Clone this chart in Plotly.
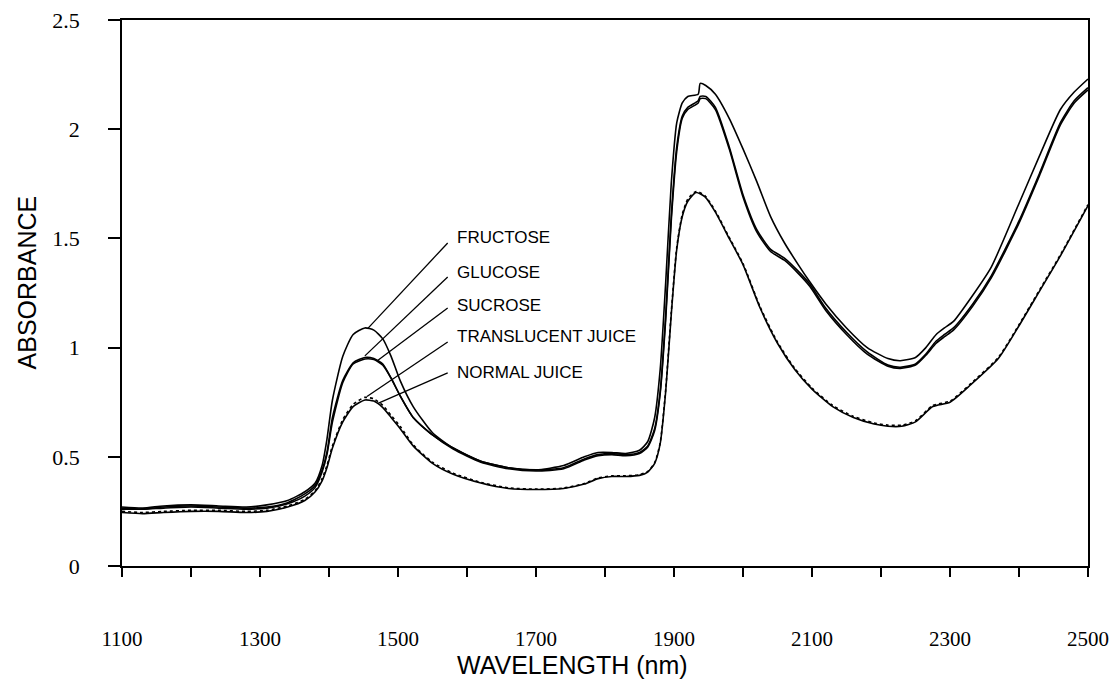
import plotly.graph_objects as go

# ---------------- data ----------------
wl_sugar = [1100, 1130, 1160, 1200, 1240, 1280, 1310, 1340, 1365, 1380, 1390, 1397, 1405, 1420,
            1435, 1452, 1465, 1478, 1490, 1503, 1522, 1550, 1580, 1620, 1660, 1700, 1740, 1770,
            1790, 1810, 1830, 1850, 1862, 1872, 1880, 1888, 1896, 1904, 1912, 1920, 1935, 1938,
            1946, 1960, 1980, 2000, 2020, 2040, 2060, 2080, 2097, 2120, 2150, 2180, 2210, 2228,
            2250, 2265, 2280, 2292, 2305, 2333, 2360, 2400, 2430, 2460, 2480, 2500]

fructose = [0.27, 0.265, 0.275, 0.28, 0.275, 0.27, 0.28, 0.30, 0.34, 0.38, 0.46, 0.58, 0.76, 0.96,
            1.06, 1.09, 1.08, 1.04, 0.96, 0.85, 0.73, 0.61, 0.54, 0.48, 0.45, 0.44, 0.46, 0.50,
            0.52, 0.52, 0.515, 0.53, 0.57, 0.68, 0.90, 1.30, 1.75, 2.03, 2.12, 2.15, 2.16, 2.21,
            2.20, 2.16, 2.05, 1.91, 1.76, 1.60, 1.48, 1.38, 1.30, 1.20, 1.09, 1.00, 0.95, 0.94,
            0.955, 1.00, 1.06, 1.09, 1.12, 1.24, 1.37, 1.66, 1.88, 2.09, 2.17, 2.23]

glucose = [0.265, 0.26, 0.27, 0.275, 0.27, 0.265, 0.27, 0.29, 0.33, 0.37, 0.44, 0.52, 0.68, 0.85,
           0.93, 0.955, 0.95, 0.925, 0.86, 0.78, 0.68, 0.60, 0.54, 0.48, 0.45, 0.44, 0.45, 0.49,
           0.51, 0.515, 0.51, 0.52, 0.55, 0.63, 0.80, 1.15, 1.60, 1.92, 2.06, 2.10, 2.13, 2.15,
           2.15, 2.10, 1.92, 1.70, 1.54, 1.45, 1.41, 1.35, 1.29, 1.18, 1.07, 0.98, 0.92, 0.91,
           0.925, 0.97, 1.03, 1.06, 1.09, 1.20, 1.33, 1.58, 1.80, 2.03, 2.13, 2.19]

sucrose = [0.26, 0.26, 0.265, 0.27, 0.265, 0.26, 0.265, 0.285, 0.32, 0.36, 0.43, 0.51, 0.66, 0.84,
           0.925, 0.948, 0.945, 0.92, 0.86, 0.78, 0.68, 0.60, 0.535, 0.475, 0.445, 0.435, 0.445, 0.485,
           0.505, 0.51, 0.505, 0.515, 0.545, 0.62, 0.79, 1.13, 1.58, 1.90, 2.05, 2.09, 2.12, 2.14,
           2.14, 2.09, 1.91, 1.69, 1.53, 1.44, 1.40, 1.34, 1.28, 1.17, 1.06, 0.97, 0.915, 0.905,
           0.92, 0.965, 1.02, 1.05, 1.08, 1.19, 1.32, 1.57, 1.79, 2.02, 2.12, 2.18]

wl_juice = [1100, 1130, 1160, 1200, 1240, 1280, 1310, 1340, 1365, 1380, 1390, 1397, 1405, 1420,
            1435, 1452, 1465, 1478, 1490, 1503, 1522, 1550, 1580, 1620, 1660, 1700, 1740, 1770,
            1790, 1810, 1830, 1850, 1862, 1872, 1880, 1888, 1896, 1904, 1912, 1920, 1932, 1945,
            1960, 1980, 2000, 2025, 2050, 2075, 2100, 2130, 2160, 2190, 2210, 2230, 2250, 2275,
            2300, 2330, 2370, 2400, 2430, 2460, 2500]

normal_juice = [0.245, 0.24, 0.245, 0.25, 0.25, 0.245, 0.25, 0.27, 0.30, 0.34, 0.39, 0.45, 0.54, 0.66,
                0.73, 0.76, 0.755, 0.725, 0.68, 0.63, 0.55, 0.47, 0.42, 0.38, 0.355, 0.35, 0.355, 0.375,
                0.40, 0.41, 0.41, 0.415, 0.43, 0.47, 0.56, 0.80, 1.15, 1.45, 1.60, 1.67, 1.71, 1.69,
                1.62, 1.50, 1.38, 1.18, 1.02, 0.90, 0.81, 0.73, 0.68, 0.65, 0.64, 0.64, 0.66, 0.73,
                0.75, 0.83, 0.95, 1.10, 1.26, 1.42, 1.65]

translucent_juice = [0.25, 0.245, 0.25, 0.255, 0.255, 0.25, 0.255, 0.275, 0.305, 0.345, 0.40, 0.46, 0.55, 0.67,
                     0.74, 0.772, 0.765, 0.735, 0.69, 0.64, 0.555, 0.475, 0.425, 0.383, 0.358, 0.352, 0.357, 0.378,
                     0.403, 0.413, 0.413, 0.418, 0.433, 0.473, 0.565, 0.81, 1.16, 1.46, 1.61, 1.68, 1.715, 1.695,
                     1.625, 1.505, 1.385, 1.185, 1.025, 0.905, 0.815, 0.735, 0.685, 0.655, 0.645, 0.645, 0.665, 0.735,
                     0.755, 0.835, 0.955, 1.105, 1.265, 1.425, 1.655]

labels = ["FRUCTOSE", "GLUCOSE", "SUCROSE", "TRANSLUCENT JUICE", "NORMAL JUICE"]
label_text_y = [1.502, 1.346, 1.195, 1.049, 0.888]
label_text_x = 1582
leader_start = [(1572, 1.479), (1572, 1.323), (1572, 1.181), (1572, 1.026), (1572, 0.884)]
leader_end = [(1456, 1.087), (1452, 0.962), (1470, 0.94), (1455, 0.776), (1471, 0.745)]

x_tickvals = list(range(1100, 2501, 100))
x_ticktext = [str(v) if (v - 1100) % 200 == 0 else "" for v in x_tickvals]
y_tickvals = [0, 0.5, 1, 1.5, 2, 2.5]
y_ticktext = ["0", "0.5", "1", "1.5", "2", "2.5"]

# ---------------- figure ----------------
fig = go.Figure()
for name, xs, ys, dash in [
    ("Fructose", wl_sugar, fructose, "solid"),
    ("Glucose", wl_sugar, glucose, "solid"),
    ("Sucrose", wl_sugar, sucrose, "solid"),
    ("Normal juice", wl_juice, normal_juice, "solid"),
    ("Translucent juice", wl_juice, translucent_juice, "dot"),
]:
    fig.add_trace(go.Scatter(x=xs, y=ys, mode="lines", name=name,
                             line=dict(color="black", width=1.6, dash=dash, shape="spline", smoothing=0.6)))

for (x0, y0), (x1, y1) in zip(leader_start, leader_end):
    fig.add_shape(type="line", xref="x", yref="y", x0=x0, y0=y0, x1=x1, y1=y1,
                  line=dict(color="black", width=1.3))

for txt, ty in zip(labels, label_text_y):
    fig.add_annotation(x=label_text_x, y=ty, xref="x", yref="y", text=txt, showarrow=False,
                       xanchor="left", yanchor="middle",
                       font=dict(family="Liberation Sans, Arial", size=17, color="black"))

fig.add_annotation(x=0.466, y=-0.181, xref="paper", yref="paper", text="WAVELENGTH (nm)",
                   showarrow=False, xanchor="center", yanchor="middle",
                   font=dict(family="Liberation Sans, Arial", size=25, color="black"))
fig.add_annotation(x=-0.098, y=0.52, xref="paper", yref="paper", text="ABSORBANCE",
                   showarrow=False, textangle=-90, xanchor="center", yanchor="middle",
                   font=dict(family="Liberation Sans, Arial", size=25, color="black"))

fig.update_xaxes(range=[1100, 2500], tickvals=x_tickvals, ticktext=x_ticktext,
                 ticks="outside", ticklen=9, tickwidth=1.5, tickcolor="black",
                 showline=True, linecolor="black", linewidth=1.6, mirror=True,
                 showgrid=False, zeroline=False, ticklabelstandoff=44, automargin=False,
                 ticklabeloverflow="allow",
                 tickfont=dict(family="Liberation Serif, Times New Roman", size=21, color="black"))
fig.update_yaxes(range=[0, 2.5], tickvals=y_tickvals, ticktext=y_ticktext,
                 ticks="outside", ticklen=12, tickwidth=1.5, tickcolor="black",
                 showline=True, linecolor="black", linewidth=1.6, mirror=True,
                 showgrid=False, zeroline=False, ticklabelstandoff=24, automargin=False,
                 ticklabeloverflow="allow",
                 tickfont=dict(family="Liberation Serif, Times New Roman", size=22, color="black"))

fig.update_layout(width=1110, height=677, margin=dict(l=114, r=30, t=12, b=119, autoexpand=False),
                  plot_bgcolor="white", paper_bgcolor="white", showlegend=False)

fig.write_html("out.html")
